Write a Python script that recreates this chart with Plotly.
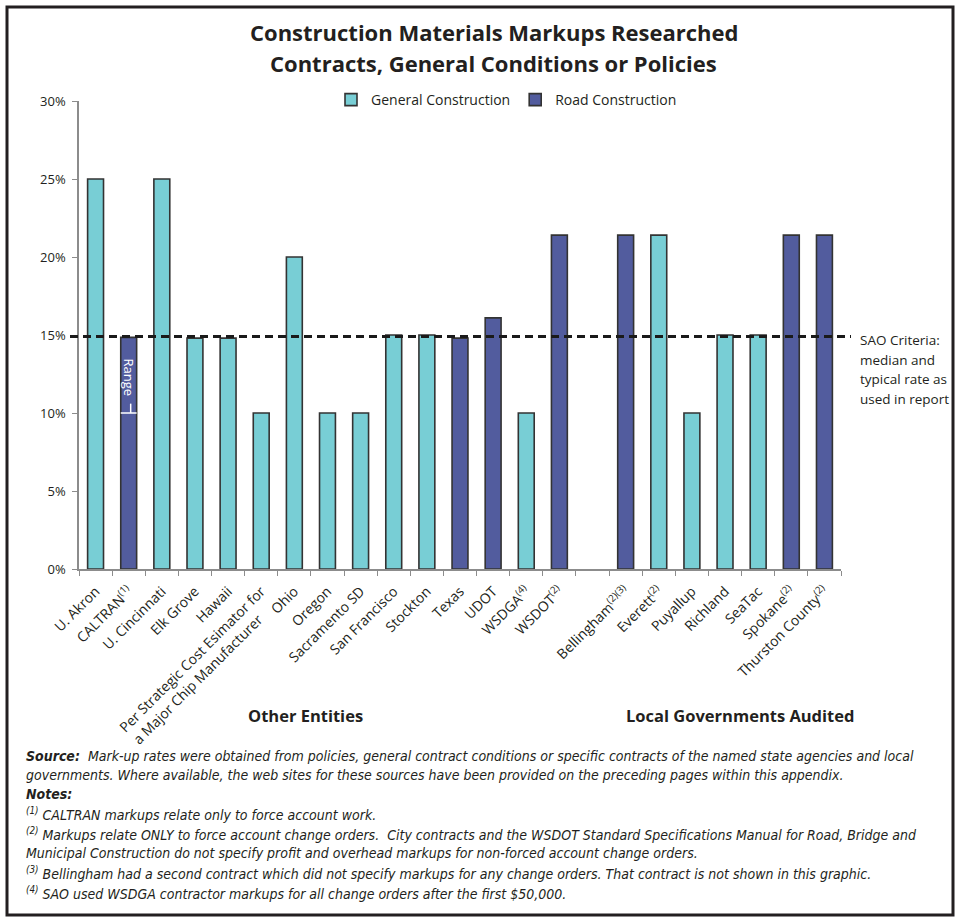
import plotly.graph_objects as go

NB = "\u00a0"
categories = [
    "U. Akron", "CALTRAN<sup>(1)</sup>", "U. Cincinnati", "Elk Grove", "Hawaii",
    "Per Strategic Cost Esimator for<br>a Major Chip Manufacturer" + NB * 6, "Ohio", "Oregon",
    "Sacramento SD", "San Francisco", "Stockton", "Texas", "UDOT",
    "WSDGA<sup>(4)</sup>", "WSDOT<sup>(2)</sup>", " ",
    "Bellingham<sup>(2)(3)</sup>", "Everett<sup>(2)</sup>", "Puyallup", "Richland",
    "SeaTac", "Spokane<sup>(2)</sup>", "Thurston County<sup>(2)</sup>",
]
general_construction = [25, None, 25, 14.8, 14.8, 10, 20, 10, 10, 15, 15, None, None,
                        10, None, None, None, 21.4, 10, 15, 15, None, None]
road_construction = [None, 14.85, None, None, None, None, None, None, None, None, None,
                     14.8, 16.1, None, 21.4, None, 21.4, None, None, None, None, 21.4, 21.4]
y_ticks = [0, 5, 10, 15, 20, 25, 30]
y_tick_labels = ["0%", "5%", "10%", "15%", "20%", "25%", "30%"]
sao_criteria = 14.9
range_low = 10

TEXT = "#231f20"
FONT = "Open Sans, Noto Sans, sans-serif"
NARROW = "Liberation Sans Narrow, DejaVu Sans Condensed, Roboto, sans-serif"

fig = go.Figure()
fig.add_trace(go.Bar(x=categories, y=general_construction, name="General Construction",
                     marker=dict(color="#78ced5", line=dict(color="#333333", width=1.6))))
fig.add_trace(go.Bar(x=categories, y=road_construction, name="Road Construction",
                     marker=dict(color="#525c9e", line=dict(color="#333333", width=1.6))))

L, R, T, B = 79, 115, 101, 349
W, H = 956, 918
pw, ph = W - L - R, H - T - B
def px_x(p):
    return (p - L) / pw
def px_y(p):
    return (H - B - p) / ph

def text_at(xp, yp, text, size, family=FONT, xanchor="center", **kw):
    fig.add_annotation(x=px_x(xp), y=px_y(yp), xref="paper", yref="paper",
                       xanchor=xanchor, yanchor="middle", showarrow=False, align="left",
                       text=text, font=dict(family=family, size=size, color=TEXT), **kw)

# Title
text_at(494, 32, "<b>Construction Materials Markups Researched</b>", 22)
text_at(493, 63, "<b>Contracts, General Conditions or Policies</b>", 22)

# SAO criteria dashed line
fig.add_shape(type="line", xref="paper", yref="y", x0=px_x(70), x1=px_x(851),
              y0=sao_criteria, y1=sao_criteria,
              line=dict(color="#1a1a1a", width=3, dash="8px,5px"))
# Range marker on CALTRAN bar
cal = categories[1]
fig.add_shape(type="line", xref="x", yref="y", x0=1 - 0.24, x1=1 + 0.24,
              y0=range_low, y1=range_low, line=dict(color="white", width=1.5))
fig.add_shape(type="line", xref="x", yref="y", x0=1.06, x1=1.06,
              y0=range_low, y1=range_low + 0.6, line=dict(color="white", width=1.5))
fig.add_annotation(x=cal, y=12.3, xref="x", yref="y", text="Range", textangle=90,
                   showarrow=False, font=dict(family=FONT, size=13, color="white"))

for yp, t in zip([340, 359.5, 379, 398.5],
                 ["SAO Criteria:", "median and", "typical rate as", "used in report"]):
    text_at(858, yp, t, 13.5, xanchor="left")

# Group labels
text_at(305, 715, "<b>Other Entities</b>", 16.5)
text_at(740, 715, "<b>Local Governments Audited</b>", 16.5)

notes = [
    (756, "<b>Source:</b>  Mark-up rates were obtained from policies, general contract conditions or specific contracts of the named state agencies and local"),
    (775, "governments. Where available, the web sites for these sources have been provided on the preceding pages within this appendix."),
    (794, "<b>Notes:</b>"),
    (814, "<sup>(1)</sup> CALTRAN markups relate only to force account work."),
    (834, "<sup>(2)</sup> Markups relate ONLY to force account change orders.  City contracts and the WSDOT Standard Specifications Manual for Road, Bridge and"),
    (853, "Municipal Construction do not specify profit and overhead markups for non-forced account change orders."),
    (873, "<sup>(3)</sup> Bellingham had a second contract which did not specify markups for any change orders. That contract is not shown in this graphic."),
    (893, "<sup>(4)</sup> SAO used WSDGA contractor markups for all change orders after the first $50,000."),
]
for yp, t in notes:
    text_at(24, yp, "<i>" + t + "</i>", 14, family=NARROW, xanchor="left")

# Frame
fig.add_shape(type="rect", xref="paper", yref="paper", x0=px_x(7), x1=px_x(953),
              y0=px_y(915), y1=px_y(7), line=dict(color=TEXT, width=3))

fig.update_layout(
    width=W, height=H, margin=dict(l=L, r=R, t=T, b=B),
    paper_bgcolor="white", plot_bgcolor="white",
    barmode="overlay", bargap=0.52, showlegend=True,
    legend=dict(orientation="h", x=px_x(331), xanchor="left", y=px_y(100), yanchor="middle",
                font=dict(family=FONT, size=14, color=TEXT), bgcolor="rgba(0,0,0,0)"),
    font=dict(family=FONT, color=TEXT),
)
fig.update_xaxes(type="category", categoryorder="array", categoryarray=categories,
                 tickangle=-45, tickson="boundaries", ticks="outside", ticklen=5,
                 tickcolor="#8c8c8c", showline=True, linecolor="#8c8c8c", linewidth=1.5,
                 showgrid=False, automargin=False, ticklabelstandoff=7,
                 tickfont=dict(family=FONT, size=14, color=TEXT))
fig.update_yaxes(range=[0, 30], tickvals=y_ticks, ticktext=y_tick_labels, ticks="outside",
                 ticklen=5, tickcolor="#8c8c8c", showline=True, linecolor="#8c8c8c",
                 linewidth=1.5, showgrid=False, zeroline=False, automargin=False,
                 ticklabelstandoff=4,
                 tickfont=dict(family=FONT, size=13, color=TEXT))

fig.write_html("out.html")
